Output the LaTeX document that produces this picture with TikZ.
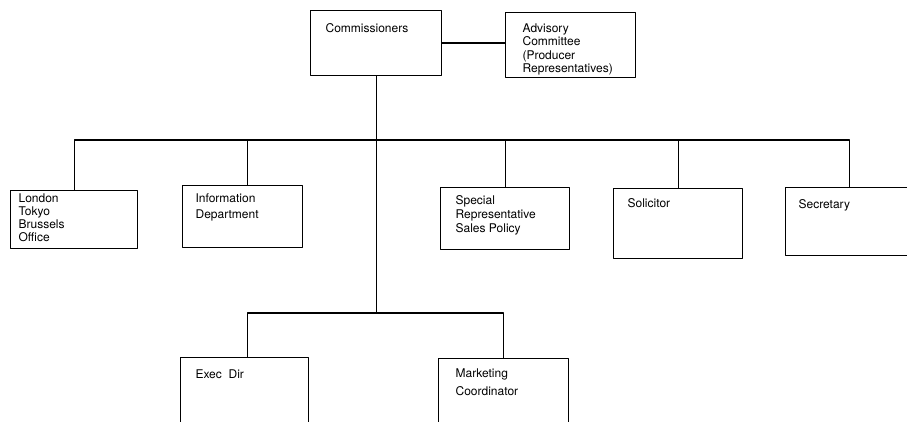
\documentclass[tikz,border=0pt]{standalone}
\usepackage{fontspec}
\setmainfont{TeX Gyre Heros}

\tikzset{
  unit/.style={draw, rectangle, anchor=north west, inner sep=0pt, line width=1.2pt},
  caption/.style={anchor=north west, align=left, inner sep=0pt, xshift=13pt, yshift=-10pt,
    font=\fontsize{12}{13}\selectfont},
}

\begin{document}
\begin{tikzpicture}[x=1pt, y=-1pt, line width=1.2pt, line cap=round, line join=round]
  \useasboundingbox (0,0) rectangle (907,422);
  \clip (0,0) rectangle (907,422);
  % top level
  \node[unit, minimum width=131, minimum height=65,
    label={[caption, xshift=2pt, yshift=-3pt]north west:Commissioners}] (comm) at (310,10) {};
  \node[unit, minimum width=130, minimum height=65,
    label={[caption, xshift=4pt, yshift=-1pt, font=\fontsize{12}{13.5}\selectfont]north west:Advisory\\Committee\\(Producer\\Representatives)}] (adv) at (505,12) {};
  % second row
  \node[unit, minimum width=127, minimum height=58,
    label={[caption, xshift=-5pt, yshift=7pt]north west:London\\Tokyo\\Brussels\\Office}] (lon) at (10,190) {};
  \node[unit, minimum width=120, minimum height=62,
    label={[caption, yshift=2pt, font=\fontsize{12}{16}\selectfont]north west:Information\\Department}] (info) at (182,185) {};
  \node[unit, minimum width=129, minimum height=62,
    label={[caption, xshift=2pt, yshift=2pt, font=\fontsize{12}{14}\selectfont]north west:Special\\Representative\\Sales Policy}] (spec) at (440,187) {};
  \node[unit, minimum width=129, minimum height=70,
    label={[caption, xshift=1pt]north west:Solicitor}] (sol) at (613,188) {};
  \node[unit, minimum width=128, minimum height=68,
    label={[caption, yshift=-2pt]north west:Secretary}] (sec) at (785,187) {};
  % third row
  \node[unit, minimum width=128, minimum height=90,
    label={[caption, xshift=2pt, yshift=-2pt]north west:Exec\ \ Dir}] (exec) at (180,357) {};
  \node[unit, minimum width=130, minimum height=90,
    label={[caption, xshift=4pt, font=\fontsize{12}{18}\selectfont]north west:Marketing\\Coordinator}] (mkt) at (438,358) {};
  % connectors
  \coordinate (bus) at (377,140);
  \coordinate (low) at (377,313);
  \draw (comm.east) -- (comm.east -| adv.west);
  \draw (comm.south) -- (comm.south |- low);
  \draw (lon.north) -- (lon.north |- bus) -- (sec.north |- bus) -- (sec.north);
  \foreach \n in {spec,sol}
    \draw (\n.north) -- (\n.north |- bus);
  \draw ([xshift=5pt]info.north) -- ([xshift=5pt]info.north |- bus);
  \draw ([xshift=3pt]exec.north) -- ([xshift=3pt]exec.north |- low) -- (mkt.north |- low) -- (mkt.north);
\end{tikzpicture}
\end{document}
